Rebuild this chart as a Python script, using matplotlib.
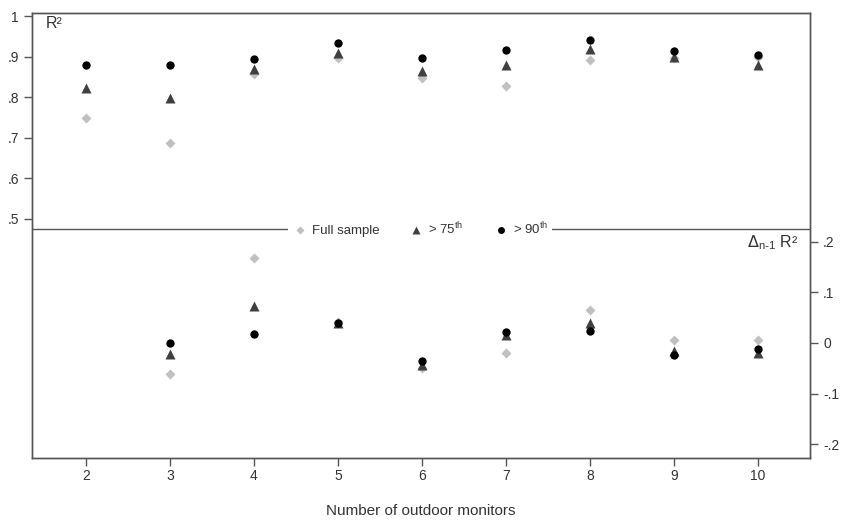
import matplotlib.pyplot as plt
from matplotlib.lines import Line2D

plt.rcParams['font.family'] = ['Liberation Sans', 'DejaVu Sans']

monitors = [2, 3, 4, 5, 6, 7, 8, 9, 10]

# R2 by number of monitors
r2_full = [0.750, 0.687, 0.856, 0.897, 0.848, 0.828, 0.892, 0.896, 0.899]
r2_p75 = [0.823, 0.799, 0.869, 0.908, 0.865, 0.879, 0.918, 0.900, 0.879]
r2_p90 = [0.879, 0.879, 0.895, 0.933, 0.897, 0.917, 0.940, 0.915, 0.903]

# change vs n-1 monitors
d_x = [3, 4, 5, 6, 7, 8, 9, 10]
d_full = [-0.061, 0.168, 0.041, -0.049, -0.020, 0.065, 0.006, 0.005]
d_p75 = [-0.022, 0.073, 0.039, -0.043, 0.015, 0.040, -0.015, -0.020]
d_p90 = [0.000, 0.018, 0.039, -0.035, 0.021, 0.024, -0.024, -0.012]

left_ticks = [0.5, 0.6, 0.7, 0.8, 0.9, 1.0]
left_labels = ['.5', '.6', '.7', '.8', '.9', '1']
right_ticks = [-0.2, -0.1, 0, 0.1, 0.2]
right_labels = ['-.2', '-.1', '0', '.1', '.2']

c_full = '#c0c0c0'
c_p75 = '#404040'
c_p90 = '#000000'
txt = '#333333'
edge = '#555555'

fig = plt.figure(figsize=(8.42, 5.24), dpi=100)
ax = fig.add_axes([32 / 842, 66 / 524, 778 / 842, 445 / 524])
ax2 = ax.twinx()

ax.set_xlim(1.357, 10.62)
ax.set_ylim(-0.0887, 1.0074)
ax2.set_ylim(-0.227, 0.651)

ms = 6
ax.plot(monitors, r2_full, 'D', color=c_full, ms=ms - 0.5, mec='none', zorder=3)
ax.plot(monitors, r2_p75, '^', color=c_p75, ms=ms + 0.5, mec='none', zorder=4)
ax.plot(monitors, r2_p90, 'o', color=c_p90, ms=ms, mec='none', zorder=5)

ax2.plot(d_x, d_full, 'D', color=c_full, ms=ms - 0.5, mec='none', zorder=3)
ax2.plot(d_x, d_p75, '^', color=c_p75, ms=ms + 0.5, mec='none', zorder=4)
ax2.plot(d_x, d_p90, 'o', color=c_p90, ms=ms, mec='none', zorder=5)

# divider between the two panels
ax.axhline(1.0 - (229 - 16) / 406, color=edge, lw=1, zorder=1)

ax.set_yticks(left_ticks)
ax.set_yticklabels(left_labels)
ax2.set_yticks(right_ticks)
ax2.set_yticklabels(right_labels)
ax.set_xticks(monitors)

for a in (ax, ax2):
    for s in a.spines.values():
        s.set_color(edge)
        s.set_linewidth(1)
    a.tick_params(colors=edge, labelcolor=txt, labelsize=10, length=6, width=1)
ax.tick_params(axis='x', pad=2)

ax.set_xlabel('Number of outdoor monitors', fontsize=11, color=txt, labelpad=15)

ax.text(0.018, 0.993, 'R²', transform=ax.transAxes, ha='left', va='top',
        fontsize=11.5, color=txt)
ax2.text(0.985, 0.485, r'$\Delta_{\mathregular{n\text{-}1}}$ R²', transform=ax.transAxes,
         ha='right', va='center', fontsize=11.5, color=txt)

handles = [
    Line2D([], [], ls='none', marker='D', color=c_full, ms=ms - 1.5, mec='none'),
    Line2D([], [], ls='none', marker='^', color=c_p75, ms=ms - 0.5, mec='none'),
    Line2D([], [], ls='none', marker='o', color=c_p90, ms=ms - 1, mec='none'),
]
labels = ['Full sample', '> 75$^{\\mathregular{th}}$', '> 90$^{\\mathregular{th}}$']
leg = ax.legend(handles, labels, loc='center', bbox_to_anchor=(0.4987, 0.5146),
                ncol=3, frameon=True, fontsize=9.5, handletextpad=0.3,
                columnspacing=2.2, borderpad=0.3, handlelength=1.2)
leg.get_frame().set_facecolor('white')
leg.get_frame().set_edgecolor('none')
leg.get_frame().set_alpha(1)
for t in leg.get_texts():
    t.set_color(txt)
leg.set_zorder(10)

fig.savefig('out.png', dpi=100)
